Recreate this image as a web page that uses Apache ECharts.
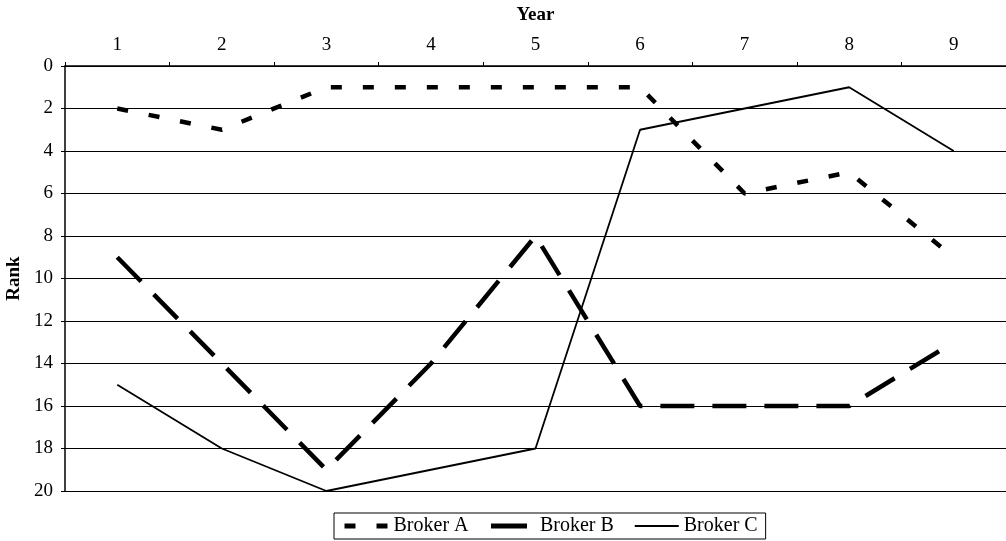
<!DOCTYPE html>
<html>
<head>
<meta charset="utf-8">
<script src="https://cdn.jsdelivr.net/npm/echarts@6/dist/echarts.min.js"></script>
<style>
  html, body { margin: 0; padding: 0; background: #fff; }
  #chart { width: 1006px; height: 541px; }
</style>
</head>
<body>
<div id="chart"></div>
<script>
const years = ['1', '2', '3', '4', '5', '6', '7', '8', '9'];
const brokerA = [2, 3, 1, 1, 1, 1, 6, 5, 9];
const brokerB = [9, 14, 19, 14, 8, 16, 16, 16, 13];
const brokerC = [15, 18, 20, 19, 18, 3, 2, 1, 4];

const font = '"Liberation Serif", "DejaVu Serif", serif';

const chart = echarts.init(document.getElementById('chart'));
const option = {
  backgroundColor: '#fff',
  animation: false,
  textStyle: { fontFamily: font, color: '#000' },
  grid: { left: 65, top: 66, right: 0, bottom: 50, containLabel: false, outerBoundsMode: 'none' },
  legend: {
    bottom: 2,
    left: 334,
    itemWidth: 44,
    itemHeight: 10,
    itemGap: 20,
    padding: [3, 8, 3, 8],
    borderColor: '#000',
    borderWidth: 1,
    borderRadius: 0,
    itemStyle: { opacity: 0 },
    textStyle: { fontFamily: font, fontSize: 20, color: '#000' },
    data: [
      { name: 'Broker A', lineStyle: { width: 5, type: [11, 21], cap: 'butt' } },
      { name: 'Broker B', lineStyle: { width: 5, type: [36, 12], cap: 'butt' } },
      { name: 'Broker C', lineStyle: { width: 1.8, type: 'solid' } }
    ]
  },
  xAxis: {
    type: 'category',
    position: 'top',
    data: years,
    boundaryGap: true,
    name: 'Year',
    nameLocation: 'middle',
    nameGap: 41,
    nameTextStyle: { fontFamily: font, fontSize: 19, fontWeight: 'bold', color: '#000' },
    axisLine: { lineStyle: { color: '#000', width: 1.5 } },
    axisTick: { show: true, length: 4, inside: false, lineStyle: { color: '#000' } },
    axisLabel: { fontFamily: font, fontSize: 19, color: '#000', margin: 11 },
    splitLine: { show: false }
  },
  yAxis: {
    type: 'value',
    inverse: true,
    min: 0,
    max: 20,
    interval: 2,
    name: 'Rank',
    nameLocation: 'middle',
    nameGap: 40,
    nameRotate: 90,
    nameTextStyle: { fontFamily: font, fontSize: 19, fontWeight: 'bold', color: '#000' },
    axisLine: { show: true, lineStyle: { color: '#000', width: 1.5 } },
    axisTick: { show: true, length: 4, lineStyle: { color: '#000' } },
    axisLabel: { fontFamily: font, fontSize: 19, color: '#000', margin: 12 },
    splitLine: { show: true, lineStyle: { color: '#000', width: 1.2 } }
  },
  series: [
    {
      name: 'Broker A',
      type: 'line',
      data: brokerA,
      symbol: 'none',
      lineStyle: { color: '#000', width: 4.5, type: [11, 21], cap: 'butt' },
      itemStyle: { color: '#000' }
    },
    {
      name: 'Broker B',
      type: 'line',
      data: brokerB,
      symbol: 'none',
      lineStyle: { color: '#000', width: 4.5, type: [34, 18], cap: 'butt' },
      itemStyle: { color: '#000' }
    },
    {
      name: 'Broker C',
      type: 'line',
      data: brokerC,
      symbol: 'none',
      lineStyle: { color: '#000', width: 1.8, type: 'solid' },
      itemStyle: { color: '#000' }
    }
  ]
};
option && chart.setOption(option);
</script>
</body>
</html>
